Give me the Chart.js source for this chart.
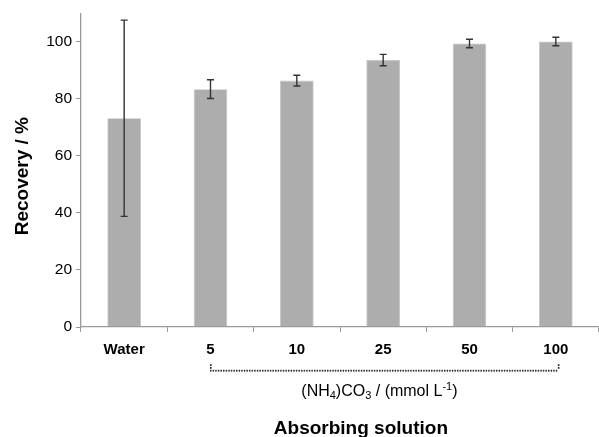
<!DOCTYPE html>
<html>
<head>
<meta charset="utf-8">
<script src="https://cdn.jsdelivr.net/npm/chart.js@4"></script>
<style>
html,body{margin:0;padding:0;background:#fff;}
#wrap{width:599px;height:437px;position:relative;}
</style>
</head>
<body>
<div id="wrap"><canvas id="c"></canvas></div>
<script>
const categories = ['Water', '5', '10', '25', '50', '100'];
const recovery = [73.2, 83.4, 86.4, 93.6, 99.4, 100.1];
const errors = [34.4, 3.3, 1.9, 2.0, 1.5, 1.5];
const yTicks = [0, 20, 40, 60, 80, 100];
const yTitle = 'Recovery / %';
const xTitle = 'Absorbing solution';
const groupLabel = { main: '(NH', sub1: '4', mid: ')CO', sub2: '3', tail: ' / (mmol L', sup: '-1', end: ')' };
const FONT = '"Liberation Sans", Arial, sans-serif';

const errorBars = {
  id: 'errorBars',
  afterDatasetsDraw(chart) {
    const ctx = chart.ctx;
    const meta = chart.getDatasetMeta(0);
    const y = chart.scales.y;
    ctx.save();
    ctx.strokeStyle = '#333';
    ctx.lineWidth = 1.4;
    meta.data.forEach((bar, i) => {
      const x = bar.x;
      const top = y.getPixelForValue(recovery[i] + errors[i]);
      const bot = y.getPixelForValue(recovery[i] - errors[i]);
      ctx.beginPath();
      ctx.moveTo(x, top); ctx.lineTo(x, bot);
      ctx.moveTo(x - 3.5, top); ctx.lineTo(x + 3.5, top);
      ctx.moveTo(x - 3.5, bot); ctx.lineTo(x + 3.5, bot);
      ctx.stroke();
    });
    ctx.restore();
  }
};

const annotations = {
  id: 'annotations',
  afterDraw(chart) {
    const ctx = chart.ctx;
    const xs = chart.scales.x;
    const ys = chart.scales.y;
    const x1 = xs.getPixelForValue(1) - 0.5;
    const x2 = xs.getPixelForValue(5) + 2;
    const yLine = 370.7;
    ctx.save();
    // y title
    ctx.font = 'bold 19px ' + FONT;
    ctx.fillStyle = '#000';
    ctx.textAlign = 'center';
    ctx.textBaseline = 'middle';
    ctx.translate(23, (ys.top + ys.bottom) / 2 + 6);
    ctx.rotate(-Math.PI / 2);
    ctx.fillText(yTitle, 0, 0);
    ctx.restore();
    ctx.save();
    // dotted bracket
    ctx.fillStyle = '#2a2a2a';
    for (let x = x1; x <= x2; x += 2.6) {
      ctx.fillRect(x, yLine - 0.9, 1.5, 1.8);
    }
    [x1, x2].forEach(xx => {
      ctx.fillRect(xx, yLine - 6.5, 1.6, 1.8);
      ctx.fillRect(xx, yLine - 3.7, 1.6, 1.8);
    });
    // group label with sub/superscripts
    const big = '16px ' + FONT;
    const small = '11px ' + FONT;
    const parts = [
      [groupLabel.main, big, 0], [groupLabel.sub1, small, 3],
      [groupLabel.mid, big, 0], [groupLabel.sub2, small, 3],
      [groupLabel.tail, big, 0], [groupLabel.sup, small, -6],
      [groupLabel.end, big, 0]
    ];
    let total = 0;
    parts.forEach(p => { ctx.font = p[1]; total += ctx.measureText(p[0]).width; });
    let cx = (x1 + x2) / 2 - 4.5 - total / 2;
    const base = 396;
    ctx.fillStyle = '#000';
    ctx.textBaseline = 'alphabetic';
    ctx.textAlign = 'left';
    parts.forEach(p => {
      ctx.font = p[1];
      ctx.fillText(p[0], cx, base + p[2]);
      cx += ctx.measureText(p[0]).width;
    });
    // bottom title
    ctx.font = 'bold 19px ' + FONT;
    ctx.textAlign = 'center';
    ctx.textBaseline = 'alphabetic';
    ctx.fillText(xTitle, (x1 + x2) / 2 - 23, 434);
    ctx.restore();
  }
};

new Chart(document.getElementById('c'), {
  type: 'bar',
  data: {
    labels: categories,
    datasets: [{
      data: recovery,
      backgroundColor: '#adadad',
      borderColor: '#c4c4c4',
      borderWidth: 0.8,
      barPercentage: 0.39,
      categoryPercentage: 1.0
    }]
  },
  options: {
    responsive: true,
    maintainAspectRatio: false,
    animation: false,
    devicePixelRatio: 1,
    layout: { padding: { top: 13, left: 0, right: 0, bottom: 0 } },
    plugins: { legend: { display: false }, tooltip: { enabled: false } },
    scales: {
      x: {
        offset: true,
        afterFit(s) { s.height = 110; },
        grid: { display: true, drawOnChartArea: false, drawTicks: true, tickLength: 5, color: '#999', offset: true },
        border: { display: true, color: '#999', width: 1.3 },
        ticks: { color: '#000', font: { family: FONT, size: 15, weight: 'bold' }, padding: 9, maxRotation: 0 }
      },
      y: {
        min: 0, max: 110,
        afterFit(s) { s.width = 81; },
        afterBuildTicks(s) { s.ticks = yTicks.map(v => ({ value: v })); },
        grid: { display: true, drawOnChartArea: false, drawTicks: true, tickLength: 5, color: '#999' },
        border: { display: true, color: '#999', width: 1.3 },
        ticks: { color: '#000', font: { family: FONT, size: 15.5 }, padding: 4 },
        title: { display: false }
      }
    }
  },
  plugins: [errorBars, annotations]
});
</script>
</body>
</html>
